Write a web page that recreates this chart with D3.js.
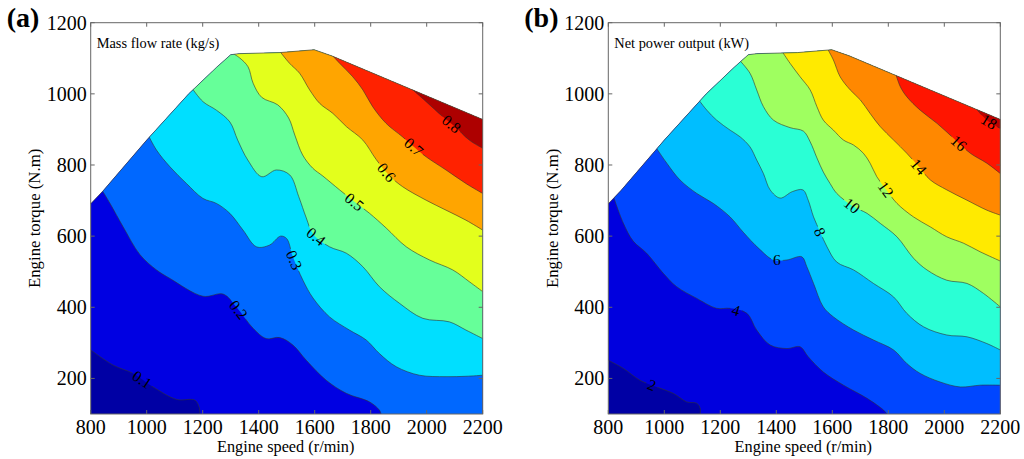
<!DOCTYPE html>
<html>
<head>
<meta charset="utf-8">
<script src="https://cdn.jsdelivr.net/npm/d3@7"></script>
<style>
body { margin: 0; background: #fff; }
svg { display: block; }
text { font-family: "Liberation Serif", "Times New Roman", serif; fill: #000; }
</style>
</head>
<body>
<script>
const width = 1024;
const height = 459;

// axis ticks
const speedTicks = [800, 1000, 1200, 1400, 1600, 1800, 2000, 2200];
const torqueTicks = [200, 400, 600, 800, 1000, 1200];

// engine operating envelope (speed r/min, torque N.m)
const envelope = [[800, 100], [800, 691], [845, 728], [1000, 870], [1150, 1000], [1250, 1075],
  [1300, 1110], [1330, 1113], [1476, 1116], [1598, 1124], [1660, 1107], [2200, 928], [2200, 100]];

// (a) mass flow rate contours, kg/s
const levelsA = [0.1, 0.2, 0.3, 0.4, 0.5, 0.6, 0.7, 0.8];
const colorsA = ["#0000a4", "#0000e2", "#0068ff", "#00dfff", "#66ff99", "#e3ff1c", "#ffa500", "#ff2200", "#ad0000"];
const contourA01 = [[800, 280], [881, 237], [952, 214], [1023, 176], [1107, 141], [1172, 139], [1187, 120], [1190, 100]];
const contourA02 = [[840, 730], [869, 692], [916, 626], [976, 548], [1035, 505], [1083, 481], [1201, 431], [1273, 437],
  [1320, 401], [1380, 341], [1427, 312], [1475, 315], [1522, 294], [1570, 251], [1641, 195], [1713, 158], [1796, 134],
  [1831, 111], [1837, 100]];
const contourA03 = [[1005, 885], [1035, 842], [1083, 795], [1142, 748], [1201, 706], [1249, 692], [1297, 664], [1344, 617],
  [1392, 570], [1439, 575], [1478, 600], [1500, 593], [1522, 542], [1558, 476], [1594, 426], [1653, 373], [1724, 336],
  [1784, 308], [1831, 270], [1891, 233], [1974, 209], [2069, 205], [2140, 206], [2200, 209]];
const contourA04 = [[1160, 1018], [1201, 978], [1249, 954], [1297, 921], [1325, 870], [1361, 814], [1411, 767], [1463, 786],
  [1511, 772], [1543, 711], [1570, 651], [1594, 606], [1653, 570], [1713, 552], [1772, 514], [1831, 458], [1903, 411],
  [1986, 369], [2081, 359], [2140, 336], [2200, 312]];
const contourA05 = [[1305, 1115], [1332, 1101], [1362, 1076], [1380, 1030], [1411, 990], [1468, 969], [1507, 932], [1529, 884],
  [1557, 828], [1593, 791], [1629, 769], [1689, 730], [1748, 693], [1796, 664], [1855, 623], [1927, 570], [2010, 533],
  [2093, 505], [2152, 472], [2200, 444]];
const contourA06 = [[1470, 1125], [1510, 1086], [1546, 1058], [1582, 1011], [1618, 973], [1665, 945], [1713, 908], [1772, 870],
  [1820, 815], [1867, 770], [1914, 739], [1998, 701], [2069, 673], [2140, 645], [2200, 617]];
const contourA07 = [[1655, 1115], [1689, 1086], [1736, 1048], [1772, 1011], [1807, 964], [1855, 917], [1914, 879], [1956, 850],
  [1998, 823], [2069, 786], [2140, 748], [2200, 720]];
const contourA08 = [[1945, 1015], [1998, 978], [2057, 936], [2102, 907], [2152, 870], [2200, 847]];
const contoursA = [contourA01, contourA02, contourA03, contourA04, contourA05, contourA06, contourA07, contourA08];
const labelsA = [[982, 195], [1326, 392], [1528, 533], [1600, 594], [1742, 697], [1837, 767], [1950, 847], [2081, 908]];

// (b) net power output contours, kW
const levelsB = [2, 4, 6, 8, 10, 12, 14, 16, 18];
const colorsB = ["#0000a4", "#0000de", "#0046ff", "#00beff", "#2affd5", "#9fff60", "#ffea00", "#ff8800", "#ff1500", "#bf0000"];
const contourB02 = [[800, 251], [854, 228], [913, 195], [973, 176], [1032, 158], [1080, 134], [1116, 130], [1128, 116], [1128, 100]];
const contourB04 = [[818, 712], [854, 636], [889, 586], [937, 552], [997, 495], [1044, 458], [1116, 425], [1187, 397], [1235, 397],
  [1295, 383], [1330, 336], [1378, 294], [1438, 284], [1485, 289], [1514, 261], [1568, 218], [1640, 181], [1724, 144],
  [1783, 111], [1795, 100]];
const contourB06 = [[968, 852], [1009, 805], [1056, 758], [1116, 720], [1175, 692], [1235, 654], [1282, 611], [1338, 565],
  [1390, 533], [1438, 533], [1491, 542], [1509, 514], [1533, 467], [1568, 401], [1604, 373], [1676, 336], [1747, 308],
  [1819, 280], [1866, 242], [1914, 214], [1985, 190], [2057, 176], [2128, 181], [2200, 181]];
const contourB08 = [[1124, 982], [1152, 954], [1187, 926], [1235, 898], [1271, 879], [1306, 851], [1330, 814], [1354, 776],
  [1378, 730], [1414, 707], [1457, 725], [1495, 730], [1514, 701], [1533, 654], [1557, 611], [1581, 570], [1616, 527],
  [1676, 505], [1747, 467], [1819, 429], [1866, 383], [1926, 345], [2009, 322], [2081, 317], [2152, 298], [2200, 280]];
const contourB10 = [[1268, 1095], [1306, 1058], [1330, 1011], [1354, 964], [1390, 926], [1449, 905], [1497, 895], [1521, 865],
  [1545, 820], [1568, 780], [1592, 748], [1616, 720], [1676, 683], [1724, 664], [1771, 636], [1831, 598], [1890, 538],
  [1938, 505], [2009, 476], [2081, 467], [2140, 439], [2200, 401]];
const contourB12 = [[1420, 1120], [1449, 1086], [1485, 1048], [1521, 1011], [1545, 964], [1568, 926], [1604, 898], [1640, 870],
  [1676, 856], [1711, 833], [1735, 805], [1759, 767], [1793, 730], [1831, 692], [1890, 654], [1950, 626], [2009, 598],
  [2069, 580], [2128, 556], [2200, 530]];
const contourB14 = [[1582, 1128], [1604, 1095], [1628, 1048], [1664, 1011], [1700, 983], [1735, 945], [1771, 908], [1819, 870],
  [1866, 833], [1907, 797], [1950, 758], [2009, 730], [2081, 701], [2152, 673], [2200, 659]];
const contourB16 = [[1825, 1060], [1843, 1020], [1866, 992], [1914, 954], [1974, 917], [2032, 876], [2093, 833], [2152, 805], [2200, 776]];
const contourB18 = [[2110, 962], [2152, 926], [2200, 903]];
const contoursB = [contourB02, contourB04, contourB06, contourB08, contourB10, contourB12, contourB14, contourB16, contourB18];
const labelsB = [[955, 181], [1259, 401], [1402, 528], [1557, 612], [1676, 692], [1795, 734], [1908, 795], [2040, 851], [2152, 912]];

const svg = d3.select("body").append("svg").attr("width", width).attr("height", height);
const defs = svg.append("defs");

const panels = [
  {id: "a", tag: "(a)", title: "Mass flow rate (kg/s)", left: 90.7, lines: contoursA, levels: levelsA,
    colors: colorsA, labels: labelsA, fmt: d3.format(".1f")},
  {id: "b", tag: "(b)", title: "Net power output (kW)", left: 608.3, lines: contoursB, levels: levelsB,
    colors: colorsB, labels: labelsB, fmt: d3.format("d")}
];

panels.forEach(drawPanel);

// nearest point on a polyline (pixel space), with the local direction
function project(pts, q) {
  let best = null;
  for (let k = 0; k < pts.length - 1; k++) {
    const a = pts[k], b = pts[k + 1];
    const dx = b[0] - a[0], dy = b[1] - a[1];
    let t = ((q[0] - a[0]) * dx + (q[1] - a[1]) * dy) / (dx * dx + dy * dy);
    t = Math.max(0, Math.min(1, t));
    const px = a[0] + t * dx, py = a[1] + t * dy;
    const dist = Math.hypot(q[0] - px, q[1] - py);
    if (!best || dist < best.dist) {
      let ang = Math.atan2(dy, dx) * 180 / Math.PI;
      if (ang > 90) ang -= 180;
      if (ang < -90) ang += 180;
      best = {x: px, y: py, ang: ang, dist: dist};
    }
  }
  return best;
}

function drawPanel(p)
{
  const x = d3.scaleLinear().domain([800, 2200]).range([p.left, p.left + 392]);
  const y = d3.scaleLinear().domain([100, 1200]).range([414, 22.7]);
  const line = d3.line().x(d => x(d[0])).y(d => y(d[1]));
  const smooth = d3.line().x(d => x(d[0])).y(d => y(d[1])).curve(d3.curveCatmullRom.alpha(0.5));

  defs.append("clipPath").attr("id", "clip-" + p.id)
    .append("path").attr("d", line(envelope) + "Z");

  const g = svg.append("g");

  // filled bands: each region above a contour painted over the lower one
  const fills = g.append("g").attr("clip-path", `url(#clip-${p.id})`);
  fills.append("path").attr("d", line(envelope) + "Z").attr("fill", p.colors[0]);
  p.lines.forEach((pts, i) => {
    const a = pts[0], b = pts[pts.length - 1];
    const tail = [[3000, b[1]], [3000, 3000], [a[0], 3000]];
    fills.append("path")
      .attr("d", smooth(pts) + tail.map(c => `L${x(c[0])},${y(c[1])}`).join("") + "Z")
      .attr("fill", p.colors[i + 1]);
  });

  // contour labels + mask that breaks the lines under them
  const mask = defs.append("mask").attr("id", "mask-" + p.id)
    .attr("maskUnits", "userSpaceOnUse")
    .attr("x", 0).attr("y", 0).attr("width", width).attr("height", height);
  mask.append("rect").attr("width", width).attr("height", height).attr("fill", "white");

  const labelG = g.append("g");
  p.labels.forEach((lab, i) => {
    const pix = p.lines[i].map(d => [x(d[0]), y(d[1])]);
    const pos = project(pix, [x(lab[0]), y(lab[1])]);
    const t = labelG.append("text")
      .attr("transform", `translate(${pos.x},${pos.y}) rotate(${pos.ang})`)
      .attr("text-anchor", "middle")
      .attr("dy", "0.35em")
      .attr("font-size", 15.5)
      .text(p.fmt(p.levels[i]));
    const w = t.node().getComputedTextLength();
    mask.append("rect")
      .attr("x", -w / 2 - 2).attr("y", -7)
      .attr("width", w + 4).attr("height", 14)
      .attr("transform", `translate(${pos.x},${pos.y}) rotate(${pos.ang})`)
      .attr("fill", "black");
  });

  const strokes = g.append("g").attr("clip-path", `url(#clip-${p.id})`)
    .append("g").attr("mask", `url(#mask-${p.id})`);
  p.lines.forEach(pts => {
    strokes.append("path").attr("d", smooth(pts))
      .attr("fill", "none").attr("stroke", "#333").attr("stroke-width", 0.6);
  });
  labelG.raise();

  // envelope outline
  g.append("path").attr("d", line(envelope.slice(1, -1)))
    .attr("fill", "none").attr("stroke", "#444").attr("stroke-width", 0.7);

  // axes box and inward ticks
  const x0 = x.range()[0], x1 = x.range()[1], yb = y.range()[0], yt = y.range()[1];
  g.append("rect").attr("x", x0).attr("y", yt).attr("width", x1 - x0).attr("height", yb - yt)
    .attr("fill", "none").attr("stroke", "#666").attr("stroke-width", 1);
  speedTicks.forEach(s => {
    g.append("line").attr("x1", x(s)).attr("x2", x(s)).attr("y1", yb).attr("y2", yb - 4).attr("stroke", "#666");
    g.append("line").attr("x1", x(s)).attr("x2", x(s)).attr("y1", yt).attr("y2", yt + 4).attr("stroke", "#666");
    g.append("text").attr("x", x(s)).attr("y", 434).attr("text-anchor", "middle")
      .attr("font-size", 20).text(s);
  });
  torqueTicks.forEach(t => {
    g.append("line").attr("x1", x0).attr("x2", x0 + 4).attr("y1", y(t)).attr("y2", y(t)).attr("stroke", "#666");
    g.append("line").attr("x1", x1).attr("x2", x1 - 4).attr("y1", y(t)).attr("y2", y(t)).attr("stroke", "#666");
    g.append("text").attr("x", x0 - 4).attr("y", y(t)).attr("dy", "0.35em").attr("text-anchor", "end")
      .attr("font-size", 20).text(t);
  });

  // titles
  g.append("text").attr("x", (x0 + x1) / 2 - 1).attr("y", 452).attr("text-anchor", "middle")
    .attr("font-size", 16.3).text("Engine speed (r/min)");
  g.append("text").attr("transform", `translate(${x0 - 50.5},${(yb + yt) / 2}) rotate(-90)`)
    .attr("text-anchor", "middle").attr("font-size", 16.8).text("Engine torque (N.m)");
  g.append("text").attr("x", x0 + 6).attr("y", 48.3).attr("font-size", 14.4).text(p.title);
  g.append("text").attr("x", x0 - 84).attr("y", 27).attr("font-size", 28).attr("font-weight", "bold").text(p.tag);
}
</script>
</body>
</html>
